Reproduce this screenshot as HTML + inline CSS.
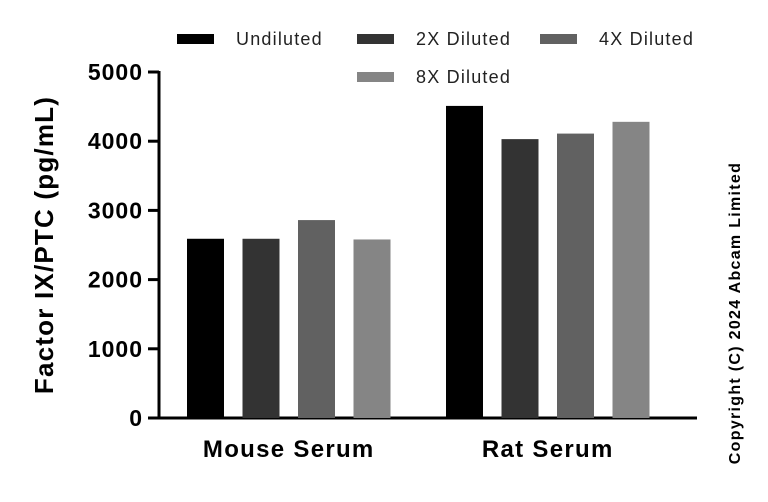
<!DOCTYPE html>
<html><head><meta charset="utf-8"><style>
body{margin:0;background:#fff;width:768px;height:497px;overflow:hidden}
text{font-family:"Liberation Sans",sans-serif}
</style></head><body>
<svg id="chart" width="768" height="497"></svg>
<script>
const groups=["Mouse Serum","Rat Serum"];
const series=["Undiluted","2X Diluted","4X Diluted","8X Diluted"];
const undiluted=[2590,4510];
const diluted2x=[2590,4030];
const diluted4x=[2860,4110];
const diluted8x=[2580,4280];
const ticks=[0,1000,2000,3000,4000,5000];
const colors=["#000000","#333333","#616161","#858585"];
const values=[undiluted,diluted2x,diluted4x,diluted8x];
const svg=document.getElementById('chart');
const NS="http://www.w3.org/2000/svg";
function el(t,a,txt){const e=document.createElementNS(NS,t);for(const k in a)e.setAttribute(k,a[k]);if(txt!==undefined)e.textContent=txt;svg.appendChild(e);return e;}
const y0=418,y1=72,x0=159;
function y(v){return y0-(v/5000)*(y0-y1);}
const groupStart=[187,446],step=55.5,bw=37;
function x(g,s){return groupStart[g]+s*step;}
let a=el('line',{x1:x0,y1:y1-1,x2:x0,y2:y0+1.5,stroke:'#000','stroke-width':3});

a=el('line',{x1:x0-1.5,y1:y0,x2:697,y2:y0,stroke:'#000','stroke-width':3});

ticks.forEach(t=>{
 let l=el('line',{x1:148,y1:y(t),x2:x0,y2:y(t),stroke:'#000','stroke-width':3});
 
 let tx=el('text',{x:143,y:y(t)+8,'text-anchor':'end','font-size':23,'font-weight':'bold','letter-spacing':1},t);
 
});
values.forEach((arr,s)=>arr.forEach((v,g)=>{
 let r=el('rect',{x:x(g,s),y:y(v),width:bw,height:y0-y(v),fill:colors[s]});
 
 
}));
groups.forEach((gname,g)=>{
 let t=el('text',{x:x(g,0)+(3*step+bw)/2,y:457,'text-anchor':'middle','font-size':24,'font-weight':'bold','letter-spacing':1.3},gname);
 
});
let yt=el('text',{x:0,y:0,transform:'translate(53,245) rotate(-90)','text-anchor':'middle','font-size':26,'font-weight':'bold','letter-spacing':1.2},'Factor IX/PTC (pg/mL)');

const legPos=[[177,39],[357,39],[540,39],[357,77]];
series.forEach((s,i)=>{
 let r=el('rect',{x:legPos[i][0],y:legPos[i][1]-5,width:37,height:10,fill:colors[i]});
 
 let t=el('text',{x:legPos[i][0]+59,y:legPos[i][1]+6,'font-size':18,fill:'#222','letter-spacing':1.2},s);
 
});
let c=el('text',{x:0,y:0,transform:'translate(740,313) rotate(-90)','text-anchor':'middle','font-size':16,'font-weight':'bold','letter-spacing':1.3},'Copyright (C) 2024 Abcam Limited');

</script>
</body></html>
